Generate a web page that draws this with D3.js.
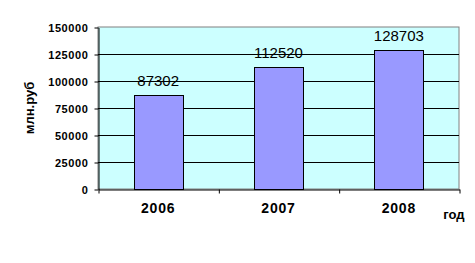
<!DOCTYPE html>
<html lang="ru">
<head>
    <meta charset="utf-8">
    <title>млн.руб по годам</title>
    <script src="https://d3js.org/d3.v7.min.js"></script>
    <style>
        body { margin: 0; background: #fff; }
        svg { display: block; font-family: Arial, "Liberation Sans", sans-serif; }
    </style>
</head>
<body>
    <div id="chart-container"></div>

    <script>
        // data
        const years = ['2006', '2007', '2008'];
        const values = [87302, 112520, 128703];
        const yTicks = [0, 25000, 50000, 75000, 100000, 125000, 150000];

        const width = 475;
        const height = 263;

        const plotLeft = 98;
        const plotRight = 459;
        const plotTop = 27;
        const plotBottom = 189;

        const svg = d3.select('#chart-container')
            .append('svg')
            .attr('width', width)
            .attr('height', height);

        const xScale = d3.scaleBand()
            .domain(years)
            .range([plotLeft, plotRight])
            .paddingInner(0.593)
            .paddingOuter(0.2965);

        const yScale = d3.scaleLinear()
            .domain([0, 150000])
            .range([plotBottom, plotTop]);

        // category boundaries for the x tick marks
        const xBounds = d3.scaleLinear()
            .domain([0, years.length])
            .range([plotLeft, plotRight]);

        // plot background
        svg.append('rect')
            .attr('x', plotLeft)
            .attr('y', plotTop)
            .attr('width', plotRight - plotLeft)
            .attr('height', plotBottom - plotTop)
            .style('fill', '#ccffff')
            .style('stroke', '#808080')
            .style('stroke-width', 1);

        // horizontal grid lines
        svg.selectAll('line.grid')
            .data(yTicks.filter(d => d > 0 && d < 150000))
            .enter()
            .append('line')
            .attr('class', 'grid')
            .attr('x1', plotLeft)
            .attr('x2', plotRight)
            .attr('y1', d => Math.round(yScale(d)) + 0.5)
            .attr('y2', d => Math.round(yScale(d)) + 0.5)
            .style('stroke', '#000')
            .style('stroke-width', 1);

        // bars
        svg.selectAll('rect.bar')
            .data(values)
            .enter()
            .append('rect')
            .attr('class', 'bar')
            .attr('x', (d, i) => Math.round(xScale(years[i])) + 0.5)
            .attr('y', d => Math.round(yScale(d)) + 0.5)
            .attr('width', Math.round(xScale.bandwidth()))
            .attr('height', d => Math.round(plotBottom - yScale(d)))
            .style('fill', '#9999ff')
            .style('stroke', '#000')
            .style('stroke-width', 1);

        // value labels
        svg.selectAll('text.value')
            .data(values)
            .enter()
            .append('text')
            .attr('class', 'value')
            .attr('x', (d, i) => xScale(years[i]) + xScale.bandwidth() / 2)
            .attr('y', d => yScale(d) - 9)
            .attr('text-anchor', 'middle')
            .style('font-size', '15px')
            .style('fill', '#000')
            .text(d => d);

        // y axis
        const yAxis = d3.axisLeft(yScale)
            .tickValues(yTicks)
            .tickSize(4)
            .tickPadding(6)
            .tickSizeOuter(0)
            .tickFormat(d3.format('d'));

        const yAxisGroup = svg.append('g')
            .attr('transform', `translate(${plotLeft + 0.5},0.5)`)
            .call(yAxis);
        yAxisGroup.select('.domain').style('stroke', '#000');
        yAxisGroup.selectAll('.tick line').style('stroke', '#000');
        yAxisGroup.selectAll('text')
            .style('font-size', '11px')
            .style('font-weight', 'bold')
            .style('letter-spacing', '0.6px')
            .style('font-family', 'Arial, "Liberation Sans", sans-serif');

        // x axis (ticks on category boundaries, labels under bars)
        const xAxis = d3.axisBottom(xBounds)
            .tickValues(d3.range(0, years.length + 1))
            .tickSize(4)
            .tickSizeOuter(0)
            .tickFormat('');

        const xAxisGroup = svg.append('g')
            .attr('transform', `translate(0.5,${plotBottom + 0.5})`)
            .call(xAxis);
        xAxisGroup.select('.domain').style('stroke', '#000');
        xAxisGroup.selectAll('.tick line').style('stroke', '#000');

        svg.selectAll('text.year')
            .data(years)
            .enter()
            .append('text')
            .attr('class', 'year')
            .attr('x', d => xScale(d) + xScale.bandwidth() / 2)
            .attr('y', 213)
            .attr('text-anchor', 'middle')
            .style('font-size', '14px')
            .style('font-weight', 'bold')
            .style('letter-spacing', '0.8px')
            .text(d => d);

        // axis titles
        svg.append('text')
            .attr('x', 454)
            .attr('y', 219)
            .attr('text-anchor', 'middle')
            .style('font-size', '13px')
            .style('font-weight', 'bold')
            .text('год');

        svg.append('text')
            .attr('transform', 'rotate(-90)')
            .attr('x', -108)
            .attr('y', 34)
            .attr('text-anchor', 'middle')
            .style('font-size', '13px')
            .style('font-weight', 'bold')
            .text('млн.руб');
    </script>
</body>
</html>
